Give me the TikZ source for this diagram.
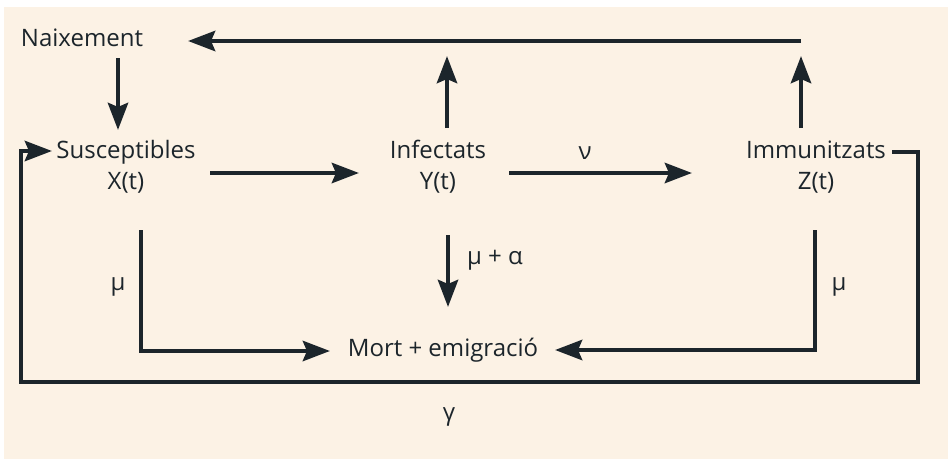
\documentclass[tikz,border=0pt]{standalone}
\usepackage{fontspec}
\setmainfont{Open Sans}
\usetikzlibrary{arrows.meta,calc}
\definecolor{pbg}{HTML}{FCF2E5}
\definecolor{pink}{HTML}{1C252B}

\begin{document}
\begin{tikzpicture}[
  x=1pt, y=-1pt,
  font=\fontsize{24}{31}\selectfont,
  comp/.style={align=center, inner sep=0pt, text=pink},
  lbl/.style={inner sep=0pt, text=pink},
  flow/.style={-{Stealth[length=27pt, width=20pt, inset=4pt]}, line width=4.8pt, draw=pink},
  loop/.style={flow, line join=miter},
]
\useasboundingbox (0,0) rectangle (948,461);
\fill[white] (0,0) rectangle (948,461);
\fill[pbg] (4,7) rectangle (948,459);

% ---------------- the compartments ----------------
\node[comp] (nai)  at (82, 38)  {Naixement};
\node[comp] (sus)  at (126, 167) {Susceptibles\\X(t)};
\node[comp] (inf)  at (438, 167) {Infectats\\Y(t)};
\node[comp] (imm)  at (816, 167) {Immunitzats\\Z(t)};
\node[comp] (mort) at (443, 350) {Mort + emigració};

% ---------------- births and transmission ----------------
\draw[flow] ($(nai)+(36,20)$) -- ($(sus)+(-8,-37)$);
\draw[flow] ($(sus)+(84,6)$) -- ($(inf)+(-79,6)$);
\draw[flow] ($(inf)+(71,6)$) -- ($(imm)+(-124,6)$);
\node[lbl] (nu) at (585, 153) {ν};

% ---------------- back to births ----------------
\draw[flow] ($(inf)+(9,-39)$) -- ($(inf)+(9,-111)$);
\draw[flow] ($(imm)+(-15,-39)$) -- ($(imm)+(-15,-111)$);
\draw[flow] ($(imm)+(-15,-126)$) -- ($(nai)+(106,3)$);

% ---------------- deaths ----------------
\draw[loop] ($(sus)+(15,63)$) |- ($(mort)+(-113,1)$);
\draw[flow] ($(inf)+(10,68)$) -- ($(mort)+(5,-43)$);
\draw[loop] ($(imm)+(-1,63)$) |- ($(mort)+(112,0)$);
\node[lbl] (mul) at (118, 287) {μ};
\node[lbl] (mua) at (495, 260) {μ + α};
\node[lbl] (mur) at (839, 287) {μ};

% ---------------- loss of immunity ----------------
\draw[loop] ($(imm)+(76,-15)$) -- ++(26,0) |- ($(sus)+(-105,215)$) |- ($(sus)+(-74,-16)$);
\node[lbl] (gam) at (449, 417) {γ};

\end{tikzpicture}
\end{document}
